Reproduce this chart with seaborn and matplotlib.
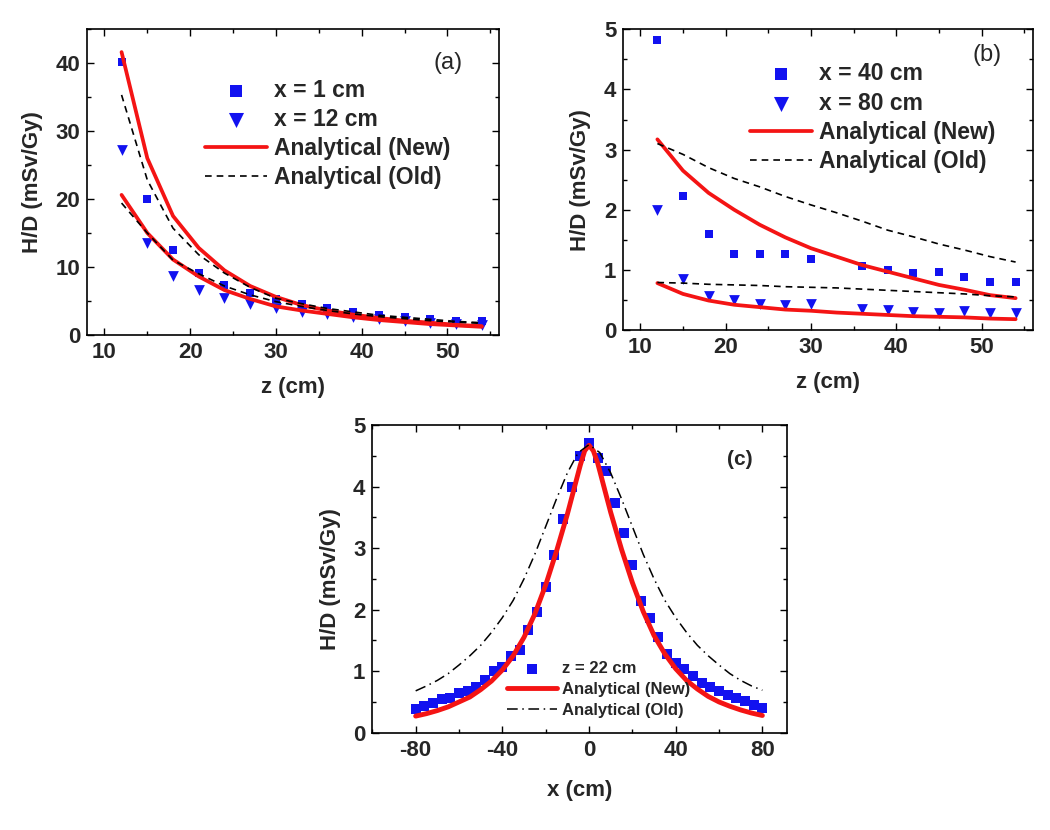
import numpy as np
import pandas as pd
import matplotlib
matplotlib.use("Agg")
import matplotlib.pyplot as plt
import seaborn as sns
from matplotlib.ticker import MultipleLocator

# ---------------- data ----------------
# panel (a)
z_a = [12, 15, 18, 21, 24, 27, 30, 33, 36, 39, 42, 45, 48, 51, 54]
a_x1_meas = [40.1, 20.0, 12.5, 9.1, 7.3, 6.2, 5.25, 4.6, 4.0, 3.4, 3.0, 2.7, 2.4, 2.1, 2.0]
a_x12_meas = [27.2, 13.5, 8.7, 6.6, 5.5, 4.6, 3.9, 3.4, 3.1, 2.7, 2.3, 2.1, 1.8, 1.6, 1.5]
a_x1_new = [41.6, 26.0, 17.5, 12.8, 9.5, 7.2, 5.6, 4.4, 3.6, 3.0, 2.5, 2.1, 1.8, 1.5, 1.3]
a_x12_new = [20.6, 15.0, 11.1, 8.6, 6.6, 5.3, 4.2, 3.6, 3.1, 2.6, 2.2, 1.9, 1.6, 1.4, 1.2]
a_x1_old = [35.3, 22.8, 15.7, 11.8, 9.1, 7.0, 5.4, 4.6, 3.9, 3.4, 2.9, 2.6, 2.3, 2.0, 1.8]
a_x12_old = [19.4, 15.0, 11.0, 9.0, 7.2, 5.9, 4.9, 4.2, 3.6, 3.1, 2.7, 2.4, 2.1, 1.9, 1.7]

# panel (b)
z_b_meas = [12, 15, 18, 21, 24, 27, 30, 36, 39, 42, 45, 48, 51, 54]
b_x40_meas = [4.82, 2.23, 1.59, 1.26, 1.27, 1.26, 1.18, 1.06, 0.99, 0.94, 0.96, 0.88, 0.80, 0.79]
b_x80_meas = [2.0, 0.84, 0.57, 0.50, 0.43, 0.42, 0.43, 0.35, 0.33, 0.30, 0.29, 0.32, 0.28, 0.28]
z_b = [12, 15, 18, 21, 24, 27, 30, 33, 36, 39, 42, 45, 48, 51, 54]
b_x40_new = [3.17, 2.65, 2.28, 2.0, 1.75, 1.54, 1.36, 1.22, 1.08, 0.97, 0.86, 0.75, 0.67, 0.58, 0.53]
b_x80_new = [0.78, 0.60, 0.49, 0.42, 0.38, 0.34, 0.32, 0.29, 0.27, 0.25, 0.23, 0.22, 0.21, 0.19, 0.18]
b_x40_old = [3.10, 2.92, 2.70, 2.52, 2.38, 2.22, 2.08, 1.95, 1.81, 1.66, 1.55, 1.43, 1.33, 1.22, 1.13]
b_x80_old = [0.79, 0.78, 0.76, 0.75, 0.74, 0.72, 0.71, 0.70, 0.68, 0.66, 0.64, 0.62, 0.60, 0.57, 0.55]

# panel (c)
x_c_meas = [-80, -76, -72, -68, -64, -60, -56, -52, -48, -44, -40, -36, -32, -28, -24, -20,
            -16, -12, -8, -4, 0, 4, 8, 12, 16, 20, 24, 28, 32, 36, 40, 44, 48, 52, 56, 60,
            64, 68, 72, 76, 80]
c_meas = [0.38, 0.43, 0.48, 0.54, 0.57, 0.64, 0.68, 0.74, 0.86, 1.01, 1.07, 1.24, 1.35, 1.67,
          1.96, 2.36, 2.88, 3.47, 3.99, 4.50, 4.70, 4.47, 4.25, 3.73, 3.24, 2.72, 2.14, 1.86,
          1.55, 1.28, 1.13, 1.03, 0.92, 0.80, 0.74, 0.68, 0.61, 0.57, 0.52, 0.45, 0.40]
x_c_new = [-80, -75, -70, -65, -60, -55, -50, -45, -40, -35, -30, -25, -20, -15, -10, -7, -4,
           -2, 0, 2, 4, 7, 10, 15, 20, 25, 30, 35, 40, 45, 50, 55, 60, 65, 70, 75, 80]
c_new = [0.27, 0.31, 0.36, 0.42, 0.50, 0.58, 0.70, 0.84, 1.02, 1.25, 1.55, 1.93, 2.40, 2.95,
         3.55, 3.95, 4.35, 4.58, 4.67, 4.58, 4.38, 3.98, 3.58, 2.98, 2.44, 1.97, 1.58, 1.28,
         1.04, 0.85, 0.71, 0.59, 0.50, 0.43, 0.37, 0.32, 0.28]
x_c_old = [-80, -75, -70, -65, -60, -55, -50, -45, -40, -35, -30, -25, -20, -15, -10, -5, 0,
           5, 10, 15, 20, 25, 30, 35, 40, 45, 50, 55, 60, 65, 70, 75, 80]
c_old = [0.68, 0.76, 0.85, 0.96, 1.10, 1.25, 1.42, 1.63, 1.87, 2.15, 2.50, 2.90, 3.35, 3.80,
         4.22, 4.55, 4.68, 4.55, 4.22, 3.80, 3.35, 2.90, 2.50, 2.15, 1.87, 1.63, 1.42, 1.25,
         1.10, 0.96, 0.85, 0.76, 0.69]

# ---------------- style ----------------
sns.set_theme(style="ticks")
plt.rcParams["font.family"] = ["Liberation Sans", "DejaVu Sans"]
plt.rcParams["axes.unicode_minus"] = False
plt.rcParams["axes.linewidth"] = 1.2
plt.rcParams["xtick.direction"] = "in"
plt.rcParams["ytick.direction"] = "in"

BLUE = "#1212f0"
RED = "#f41414"

fig = plt.figure(figsize=(10.5, 8.3), dpi=100)
ax_a = fig.add_axes([0.0831, 0.5964, 0.3921, 0.3687])
ax_b = fig.add_axes([0.5936, 0.6024, 0.3899, 0.3623])
ax_c = fig.add_axes([0.3546, 0.1172, 0.3952, 0.3708])


def style_axes(ax, xmaj, xmin, ymaj, ymin):
    ax.xaxis.set_major_locator(MultipleLocator(xmaj))
    ax.xaxis.set_minor_locator(MultipleLocator(xmin))
    ax.yaxis.set_major_locator(MultipleLocator(ymaj))
    ax.yaxis.set_minor_locator(MultipleLocator(ymin))
    ax.tick_params(which="both", direction="in", top=True, right=True, color="black", width=1.0)
    ax.tick_params(which="major", length=5, labelsize=16, pad=5)
    ax.tick_params(which="minor", length=3)
    for lab in ax.get_xticklabels() + ax.get_yticklabels():
        lab.set_fontweight("bold")
    for s in ax.spines.values():
        s.set_visible(True)
        s.set_color("black")
        s.set_linewidth(1.2)


LEG_AB = dict(loc="upper left", frameon=False, prop={"size": 16.5, "weight": "bold"},
              handlelength=2.7, handletextpad=0.3, labelspacing=0.27, borderpad=0,
              borderaxespad=0, markerscale=1.4)

# ---------------- panel (a) ----------------
ax = ax_a
sns.scatterplot(x=z_a, y=a_x1_meas, marker="s", color=BLUE, s=40, linewidth=0, ax=ax, label="x = 1 cm", zorder=3)
sns.scatterplot(x=z_a, y=a_x12_meas, marker="v", color=BLUE, s=60, linewidth=0, ax=ax, label="x = 12 cm", zorder=3)
sns.lineplot(x=z_a, y=a_x1_new, color=RED, linewidth=2.7, ax=ax, label="Analytical (New)", zorder=4)
sns.lineplot(x=z_a, y=a_x12_new, color=RED, linewidth=2.7, ax=ax, zorder=4)
sns.lineplot(x=z_a, y=a_x1_old, color="black", linewidth=1.2, linestyle=(0, (4, 3)), ax=ax, label="Analytical (Old)", zorder=5)
sns.lineplot(x=z_a, y=a_x12_old, color="black", linewidth=1.2, linestyle=(0, (4, 3)), ax=ax, zorder=5)
ax.set_xlim(8, 56)
ax.set_ylim(0, 45)
style_axes(ax, 10, 5, 10, 5)
ax.set_xlabel("z (cm)", fontsize=16, fontweight="bold", labelpad=10)
ax.set_ylabel("H/D (mSv/Gy)", fontsize=16, fontweight="bold", labelpad=9)
ax.text(0.876, 0.89, "(a)", transform=ax.transAxes, fontsize=17, ha="center", va="center")
h, l = ax.get_legend_handles_labels()
ax.legend(h, l, bbox_to_anchor=(0.286, 0.838), **LEG_AB)

# ---------------- panel (b) ----------------
ax = ax_b
sns.scatterplot(x=z_b_meas, y=b_x40_meas, marker="s", color=BLUE, s=40, linewidth=0, ax=ax, label="x = 40 cm", zorder=3)
sns.scatterplot(x=z_b_meas, y=b_x80_meas, marker="v", color=BLUE, s=60, linewidth=0, ax=ax, label="x = 80 cm", zorder=3)
sns.lineplot(x=z_b, y=b_x40_new, color=RED, linewidth=2.7, ax=ax, label="Analytical (New)", zorder=4)
sns.lineplot(x=z_b, y=b_x80_new, color=RED, linewidth=2.7, ax=ax, zorder=4)
sns.lineplot(x=z_b, y=b_x40_old, color="black", linewidth=1.2, linestyle=(0, (4, 3)), ax=ax, label="Analytical (Old)", zorder=5)
sns.lineplot(x=z_b, y=b_x80_old, color="black", linewidth=1.2, linestyle=(0, (4, 3)), ax=ax, zorder=5)
ax.set_xlim(8, 56)
ax.set_ylim(0, 5)
style_axes(ax, 10, 5, 1, 0.5)
ax.set_xlabel("z (cm)", fontsize=16, fontweight="bold", labelpad=10)
ax.set_ylabel("H/D (mSv/Gy)", fontsize=16, fontweight="bold", labelpad=9)
ax.text(0.888, 0.915, "(b)", transform=ax.transAxes, fontsize=17, ha="center", va="center")
h, l = ax.get_legend_handles_labels()
ax.legend(h, l, bbox_to_anchor=(0.309, 0.89), **LEG_AB)

# ---------------- panel (c) ----------------
ax = ax_c
sns.scatterplot(x=x_c_meas, y=c_meas, marker="s", color=BLUE, s=52, linewidth=0, ax=ax, label="z = 22 cm", zorder=3)
sns.lineplot(x=x_c_new, y=c_new, color=RED, linewidth=3.5, ax=ax, label="Analytical (New)", zorder=4)
sns.lineplot(x=x_c_old, y=c_old, color="black", linewidth=1.1, linestyle=(0, (7, 3, 1, 3)), ax=ax, label="Analytical (Old)", zorder=5)
ax.set_xlim(-100, 91.5)
ax.set_ylim(0, 5)
style_axes(ax, 40, 20, 1, 0.5)
ax.set_xlabel("x (cm)", fontsize=16, fontweight="bold", labelpad=14)
ax.set_ylabel("H/D (mSv/Gy)", fontsize=16, fontweight="bold", labelpad=9)
ax.text(0.886, 0.889, "(c)", transform=ax.transAxes, fontsize=15, fontweight="bold", ha="center", va="center")
h, l = ax.get_legend_handles_labels()
ax.legend(h, l, loc="upper left", bbox_to_anchor=(0.325, 0.233), frameon=False,
          prop={"size": 12, "weight": "bold"}, handlelength=3.0, handletextpad=0.3,
          labelspacing=0.36, borderpad=0, borderaxespad=0, markerscale=0.9)

fig.savefig("out.png", dpi=100)
